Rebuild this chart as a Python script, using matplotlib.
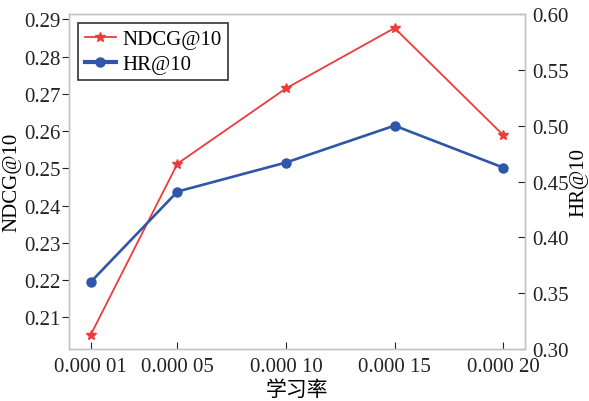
import matplotlib
matplotlib.use("Agg")
import matplotlib.pyplot as plt

# learning rates and metrics
lr = [0.00001, 0.00005, 0.00010, 0.00015, 0.00020]
lr_labels = ["0.000 01", "0.000 05", "0.000 10", "0.000 15", "0.000 20"]
ndcg = [0.2053, 0.2513, 0.2715, 0.2877, 0.2590]
hr = [0.360, 0.441, 0.467, 0.500, 0.4625]

ndcg_ticks = [0.21, 0.22, 0.23, 0.24, 0.25, 0.26, 0.27, 0.28, 0.29]
hr_ticks = [0.30, 0.35, 0.40, 0.45, 0.50, 0.55, 0.60]

plt.rcParams["font.family"] = ["Liberation Serif", "Noto Sans CJK SC"]
plt.rcParams["font.size"] = 15

red = "#f03a3c"
blue = "#2f56a8"
spine_gray = "#c4c4c4"

fig = plt.figure(figsize=(5.89, 4.02), dpi=100)
ax = fig.add_axes([0.117, 0.129, 0.774, 0.834])
ax2 = ax.twinx()

l1, = ax.plot(lr, ndcg, color=red, lw=1.3, marker="*", ms=7, label="NDCG@10")
l2, = ax2.plot(lr, hr, color=blue, lw=1.9, marker="o", ms=6.5, label="HR@10")

ax.set_xlim(0, 0.00021)
ax.set_xticks(lr)
ax.set_xticklabels(lr_labels)
ax.set_ylim(0.2015, 0.2915)
ax.set_yticks(ndcg_ticks)
ax.set_yticklabels([f"{v:.2f}" for v in ndcg_ticks])
ax2.set_ylim(0.30, 0.60)
ax2.set_yticks(hr_ticks)
ax2.set_yticklabels([f"{v:.2f}" for v in hr_ticks])

ax.tick_params(axis="x", direction="in", length=5, width=0.8, pad=6, colors="#222222")
ax.tick_params(axis="y", direction="out", length=5, width=0.8, pad=1, colors="#222222")
ax2.tick_params(axis="y", direction="in", length=5, width=0.8, pad=5.5, colors="#222222")

for a in (ax, ax2):
    for s in a.spines.values():
        s.set_color(spine_gray)
        s.set_linewidth(1.0)

ax.set_xlabel("学习率", fontsize=15, labelpad=3)
ax.set_ylabel("NDCG@10", fontsize=15, labelpad=2)
ax2.set_ylabel("HR@10", fontsize=15, labelpad=0)

leg = ax.legend(handles=[l1, l2], loc="upper left", fancybox=False,
                edgecolor="#333333", framealpha=1, borderpad=0.3,
                handlelength=1.5, handletextpad=0.3, labelspacing=0.25,
                borderaxespad=0.45, fontsize=15)
leg.get_frame().set_linewidth(1.2)
leg.get_lines()[1].set_linewidth(3.0)

fig.savefig("out.png", dpi=100)
